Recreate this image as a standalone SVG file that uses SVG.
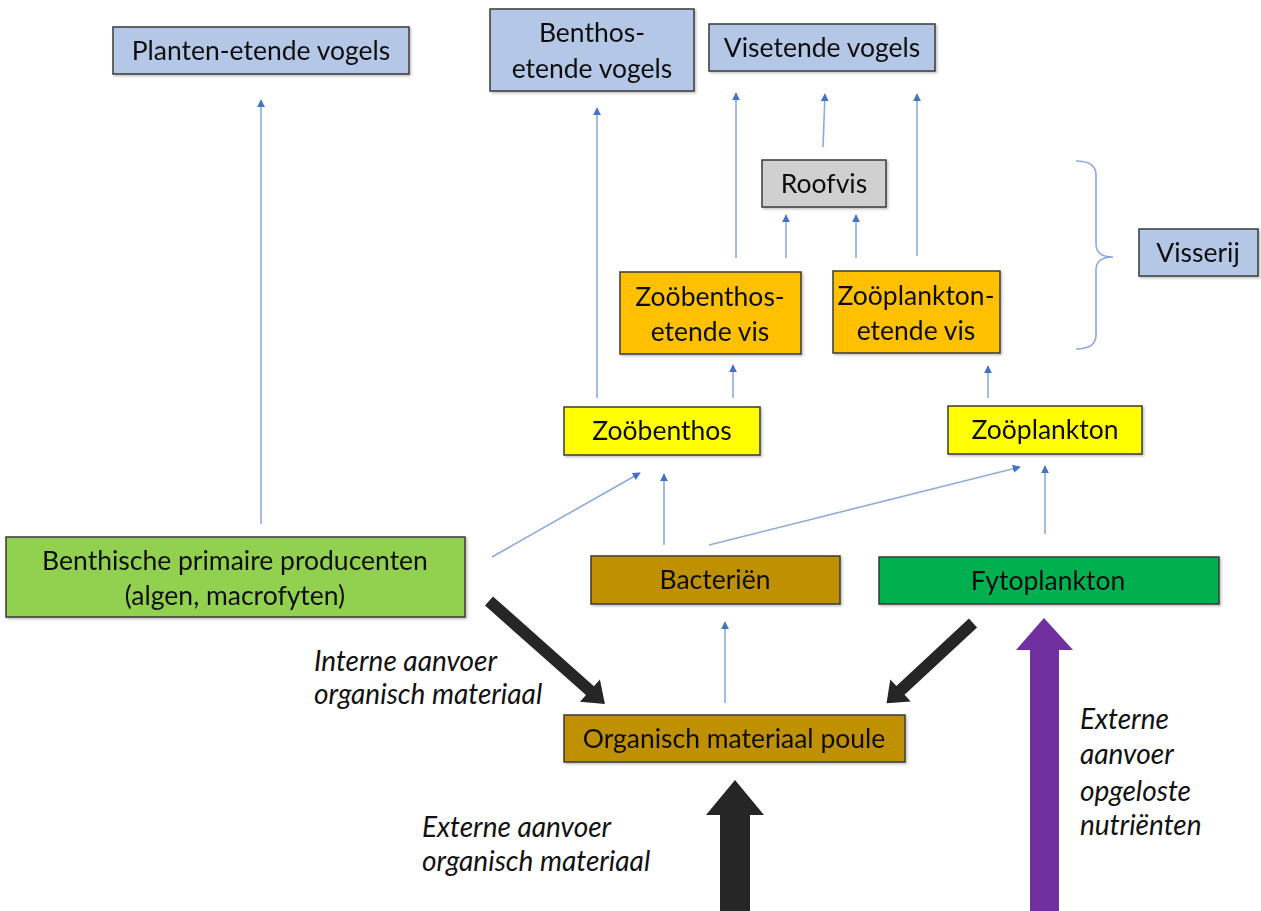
<svg xmlns="http://www.w3.org/2000/svg" width="1261" height="911" viewBox="0 0 1261 911">
  <style>
    .box { stroke: #3a3a3a; stroke-width: 1.5; }
    .lbl { font-family: Lato, "Open Sans", "Liberation Sans", sans-serif; font-size: 26.5px; fill: #111; text-anchor: middle; }
    .note { font-family: Lato, "Open Sans", "Liberation Sans", sans-serif; font-size: 28px; font-style: italic; fill: #111; }
    .thin { stroke: #8eaadb; stroke-width: 1.6; fill: none; marker-end: url(#tip); }
    .blue { fill: #b4c7e7; }
    .grey { fill: #d0d0d0; }
    .orange { fill: #ffc000; }
    .yellow { fill: #ffff00; }
    .lgreen { fill: #92d050; }
    .brown { fill: #bf9000; }
    .green { fill: #00b050; }
  </style>
  <defs>
    <marker id="tip" viewBox="0 0 10 10" refX="9" refY="5" markerWidth="5" markerHeight="6" orient="auto" markerUnits="strokeWidth">
      <path d="M0,0 L10,5 L0,10 z" fill="#4472c4"/>
    </marker>
    <filter id="sh" x="-5%" y="-10%" width="112%" height="130%">
      <feDropShadow dx="1.5" dy="1.5" stdDeviation="1" flood-color="#000" flood-opacity="0.25"/>
    </filter>
  </defs>
  <rect width="1261" height="911" fill="#ffffff"/>

  <!-- food web links -->
  <g id="connectors">
    <line class="thin" x1="261" y1="524" x2="261" y2="100"/>
    <line class="thin" x1="597" y1="398" x2="597" y2="108"/>
    <line class="thin" x1="736" y1="258" x2="736" y2="93"/>
    <line class="thin" x1="823" y1="147" x2="825" y2="94"/>
    <line class="thin" x1="917" y1="256" x2="917" y2="94"/>
    <line class="thin" x1="786" y1="258" x2="786" y2="215"/>
    <line class="thin" x1="856" y1="258" x2="856" y2="215"/>
    <line class="thin" x1="733" y1="398" x2="733" y2="365"/>
    <line class="thin" x1="988" y1="398" x2="988" y2="366"/>
    <line class="thin" x1="492" y1="557" x2="640" y2="473"/>
    <line class="thin" x1="664" y1="545" x2="664" y2="474"/>
    <line class="thin" x1="709" y1="545" x2="1020" y2="467"/>
    <line class="thin" x1="1045" y1="534" x2="1045" y2="466"/>
    <line class="thin" x1="725" y1="703" x2="725" y2="622"/>

    <!-- detritus flows into the organic matter pool -->
    <path transform="translate(489,601) rotate(41.6)" d="M0,-6 L135,-6 L135,-15 L155,0 L135,15 L135,6 L0,6 z" fill="#262626"/>
    <path transform="translate(973,623) rotate(137.1)" d="M0,-6 L99,-6 L99,-15 L118,0 L99,15 L99,6 L0,6 z" fill="#262626"/>
    <!-- external inputs -->
    <path d="M720,911 L720,815 L706,815 L735,780 L764,815 L750,815 L750,911 z" fill="#262626"/>
    <path d="M1030,911 L1030,650 L1016,650 L1044,618 L1073,650 L1059,650 L1059,911 z" fill="#7030a0"/>

    <!-- brace grouping the fish -->
    <path d="M1076,161 Q1096,161 1096,175 L1096,244 Q1096,257 1113,257 Q1096,257 1096,270 L1096,335 Q1096,349 1076,349" fill="none" stroke="#8eaadb" stroke-width="1.6"/>
  </g>

  <g id="planten-etende-vogels" filter="url(#sh)">
    <rect class="box blue" x="113" y="27" width="296" height="47"/>
    <text class="lbl" x="261" y="60">Planten-etende vogels</text>
  </g>
  <g id="benthos-etende-vogels" filter="url(#sh)">
    <rect class="box blue" x="490" y="9" width="204" height="82"/>
    <text class="lbl" x="592" y="42">Benthos-</text>
    <text class="lbl" x="592" y="78">etende vogels</text>
  </g>
  <g id="visetende-vogels" filter="url(#sh)">
    <rect class="box blue" x="709" y="24" width="226" height="47"/>
    <text class="lbl" x="822" y="57">Visetende vogels</text>
  </g>
  <g id="roofvis" filter="url(#sh)">
    <rect class="box grey" x="762" y="160" width="124" height="47"/>
    <text class="lbl" x="824" y="193">Roofvis</text>
  </g>
  <g id="visserij" filter="url(#sh)">
    <rect class="box blue" x="1139" y="229" width="119" height="47"/>
    <text class="lbl" x="1198" y="262">Visserij</text>
  </g>
  <g id="zoobenthos-etende-vis" filter="url(#sh)">
    <rect class="box orange" x="620" y="272" width="181" height="82"/>
    <text class="lbl" x="710" y="306">Zoöbenthos-</text>
    <text class="lbl" x="710" y="341">etende vis</text>
  </g>
  <g id="zooplankton-etende-vis" filter="url(#sh)">
    <rect class="box orange" x="833" y="271" width="167" height="82"/>
    <text class="lbl" x="916" y="305">Zoöplankton-</text>
    <text class="lbl" x="916" y="340">etende vis</text>
  </g>
  <g id="zoobenthos" filter="url(#sh)">
    <rect class="box yellow" x="564" y="407" width="196" height="48"/>
    <text class="lbl" x="662" y="440">Zoöbenthos</text>
  </g>
  <g id="zooplankton" filter="url(#sh)">
    <rect class="box yellow" x="948" y="406" width="194" height="48"/>
    <text class="lbl" x="1045" y="439">Zoöplankton</text>
  </g>
  <g id="benthische-primaire-producenten" filter="url(#sh)">
    <rect class="box lgreen" x="6" y="537" width="459" height="80"/>
    <text class="lbl" x="235" y="570">Benthische primaire producenten</text>
    <text class="lbl" x="235" y="605">(algen, macrofyten)</text>
  </g>
  <g id="bacterien" filter="url(#sh)">
    <rect class="box brown" x="591" y="556" width="249" height="48"/>
    <text class="lbl" x="715" y="589">Bacteriën</text>
  </g>
  <g id="fytoplankton" filter="url(#sh)">
    <rect class="box green" x="879" y="557" width="340" height="47"/>
    <text class="lbl" x="1048" y="590">Fytoplankton</text>
  </g>
  <g id="organisch-materiaal-poule" filter="url(#sh)">
    <rect class="box brown" x="564" y="715" width="341" height="47"/>
    <text class="lbl" x="734" y="748">Organisch materiaal poule</text>
  </g>

  <g id="annotations">
    <text class="note" x="314" y="671">Interne aanvoer</text>
    <text class="note" x="314" y="704">organisch materiaal</text>
    <text class="note" x="422" y="837">Externe aanvoer</text>
    <text class="note" x="422" y="871">organisch materiaal</text>
    <text class="note" x="1080" y="729">Externe</text>
    <text class="note" x="1080" y="764">aanvoer</text>
    <text class="note" x="1080" y="801">opgeloste</text>
    <text class="note" x="1080" y="835">nutriënten</text>
  </g>
</svg>
